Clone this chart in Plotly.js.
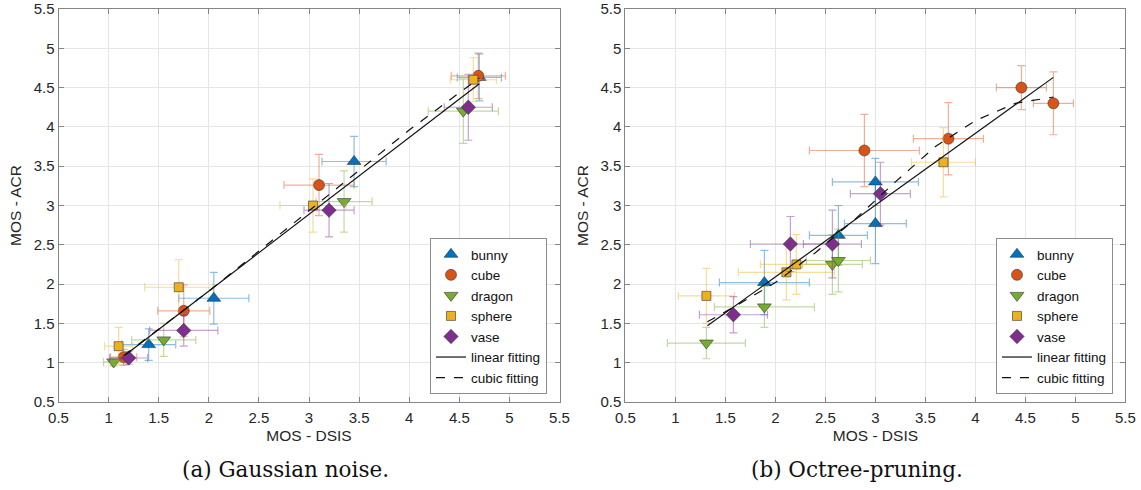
<!DOCTYPE html>
<html><head><meta charset="utf-8">
<script src="https://cdn.plot.ly/plotly-3.0.1.min.js"></script>
<style>body{margin:0;background:#fff}#c{width:1141px;height:490px}</style>
</head><body><div id="c"></div>
<script>
// ---------- DATA ----------
const seriesNames = ["bunny","cube","dragon","sphere","vase"];

// (a) Gaussian noise
const gBunnyX  = [1.40, 2.05, 3.45, 4.70];
const gBunnyY  = [1.23, 1.82, 3.56, 4.63];
const gBunnyEX = [0.27, 0.35, 0.32, 0.22];
const gBunnyEY = [0.20, 0.33, 0.32, 0.30];
const gCubeX   = [1.15, 1.75, 3.10, 4.69];
const gCubeY   = [1.07, 1.66, 3.26, 4.65];
const gCubeEX  = [0.13, 0.26, 0.35, 0.27];
const gCubeEY  = [0.10, 0.33, 0.39, 0.29];
const gDragonX = [1.05, 1.55, 3.35, 4.54];
const gDragonY = [1.01, 1.29, 3.05, 4.20];
const gDragonEX= [0.10, 0.32, 0.28, 0.35];
const gDragonEY= [0.05, 0.21, 0.39, 0.41];
const gSphereX = [1.10, 1.70, 3.04, 4.64];
const gSphereY = [1.21, 1.96, 3.00, 4.60];
const gSphereEX= [0.14, 0.34, 0.33, 0.23];
const gSphereEY= [0.24, 0.35, 0.34, 0.28];
const gVaseX   = [1.20, 1.75, 3.20, 4.59];
const gVaseY   = [1.06, 1.41, 2.94, 4.25];
const gVaseEX  = [0.19, 0.34, 0.25, 0.24];
const gVaseEY  = [0.08, 0.20, 0.34, 0.42];
const gLinX = [1.17, 4.70];
const gLinY = [1.10, 4.55];
const gCubX = [1.15, 1.60, 2.00, 2.50, 3.00, 3.50, 4.00, 4.40, 4.70];
const gCubY = [1.09, 1.52, 1.91, 2.42, 2.93, 3.45, 3.96, 4.34, 4.62];

// (b) Octree-pruning
const oBunnyX  = [1.89, 2.63, 3.00, 3.00];
const oBunnyY  = [2.02, 2.62, 3.30, 2.77];
const oBunnyEX = [0.45, 0.29, 0.43, 0.31];
const oBunnyEY = [0.41, 0.38, 0.30, 0.51];
const oCubeX   = [2.89, 3.73, 4.46, 4.78];
const oCubeY   = [3.70, 3.85, 4.50, 4.30];
const oCubeEX  = [0.55, 0.35, 0.25, 0.20];
const oCubeEY  = [0.46, 0.46, 0.28, 0.40];
const oDragonX = [1.31, 1.89, 2.57, 2.63];
const oDragonY = [1.25, 1.71, 2.25, 2.30];
const oDragonEX= [0.39, 0.50, 0.30, 0.32];
const oDragonEY= [0.20, 0.26, 0.38, 0.40];
const oSphereX = [1.31, 2.11, 2.21, 3.68];
const oSphereY = [1.85, 2.15, 2.25, 3.55];
const oSphereEX= [0.28, 0.48, 0.36, 0.32];
const oSphereEY= [0.35, 0.35, 0.38, 0.44];
const oVaseX   = [1.58, 2.15, 2.57, 3.05];
const oVaseY   = [1.61, 2.51, 2.51, 3.15];
const oVaseEX  = [0.34, 0.40, 0.29, 0.30];
const oVaseEY  = [0.23, 0.35, 0.43, 0.40];
const oLinX = [1.32, 4.78];
const oLinY = [1.47, 4.63];
const oCubX = [1.32, 1.60, 2.00, 2.40, 2.80, 3.20, 3.60, 4.00, 4.40, 4.78];
const oCubY = [1.52, 1.72, 2.02, 2.40, 2.83, 3.30, 3.75, 4.08, 4.30, 4.38];

const xTicks = [0.5,1,1.5,2,2.5,3,3.5,4,4.5,5,5.5];
const yTicks = [0.5,1,1.5,2,2.5,3,3.5,4,4.5,5,5.5];
const captions = ["(a) Gaussian noise.", "(b) Octree-pruning."];
const xTitle = "MOS - DSIS", yTitle = "MOS - ACR";
const fitNames = ["linear fitting","cubic fitting"];

// ---------- STYLE ----------
const colors = {bunny:[0,114,189], cube:[217,83,25], dragon:[119,172,48], sphere:[237,177,32], vase:[126,47,142]};
const symbols = {bunny:'triangle-up', cube:'circle', dragon:'triangle-down', sphere:'square', vase:'diamond'};
const sizes = {bunny:12, cube:11, dragon:12, sphere:9, vase:11};
const rgb = (c,a)=> a===undefined ? `rgb(${c.join(',')})` : `rgba(${c.join(',')},${a})`;

function pts(name, X, Y, EX, EY, xa, ya, leg){
  const c = colors[name];
  return {type:'scatter', mode:'markers', name:name, x:X, y:Y, xaxis:xa, yaxis:ya, legend:leg,
    error_x:{type:'data', array:EX, visible:true, color:rgb(c,0.45), thickness:1.2, width:4},
    error_y:{type:'data', array:EY, visible:true, color:rgb(c,0.45), thickness:1.2, width:4},
    marker:{symbol:symbols[name], size:sizes[name], color:rgb(c), line:{color:'rgba(50,50,50,0.85)', width:0.7}}};
}
function fit(X,Y,dash,name,xa,ya,leg){
  return {type:'scatter', mode:'lines', name:name, x:X, y:Y, xaxis:xa, yaxis:ya, legend:leg,
    line:{color:'#111', width:1.2, dash:dash}};
}

const data = [
  pts('bunny', gBunnyX, gBunnyY, gBunnyEX, gBunnyEY, 'x','y','legend'),
  pts('cube', gCubeX, gCubeY, gCubeEX, gCubeEY, 'x','y','legend'),
  pts('dragon', gDragonX, gDragonY, gDragonEX, gDragonEY, 'x','y','legend'),
  pts('sphere', gSphereX, gSphereY, gSphereEX, gSphereEY, 'x','y','legend'),
  pts('vase', gVaseX, gVaseY, gVaseEX, gVaseEY, 'x','y','legend'),
  fit(gLinX, gLinY, 'solid', fitNames[0], 'x','y','legend'),
  fit(gCubX, gCubY, 'dash', fitNames[1], 'x','y','legend'),
  pts('bunny', oBunnyX, oBunnyY, oBunnyEX, oBunnyEY, 'x2','y2','legend2'),
  pts('cube', oCubeX, oCubeY, oCubeEX, oCubeEY, 'x2','y2','legend2'),
  pts('dragon', oDragonX, oDragonY, oDragonEX, oDragonEY, 'x2','y2','legend2'),
  pts('sphere', oSphereX, oSphereY, oSphereEX, oSphereEY, 'x2','y2','legend2'),
  pts('vase', oVaseX, oVaseY, oVaseEX, oVaseEY, 'x2','y2','legend2'),
  fit(oLinX, oLinY, 'solid', fitNames[0], 'x2','y2','legend2'),
  fit(oCubX, oCubY, 'dash', fitNames[1], 'x2','y2','legend2'),
];

const W = 1141, H = 490;
const sans = 'Liberation Sans, Arial, sans-serif';
const tickFont = {family:sans, size:15, color:'#262626'};
const axisColor = '#858585';
function xax(d, anchor){
  return {domain:d, anchor:anchor, range:[0.5,5.5], tickvals:xTicks, ticktext:xTicks.map(String),
    ticks:'inside', ticklen:5, tickcolor:axisColor, mirror:'ticks', showline:true, linecolor:axisColor, linewidth:1,
    showgrid:true, gridcolor:'#e6e6e6', gridwidth:1, zeroline:false, tickfont:tickFont, ticklabeloverflow:'allow',
    ticklabelstandoff:2,
    title:{text:xTitle, font:{family:sans, size:15.5, color:'#262626'}, standoff:5}};
}
function yax(d, anchor){
  return {domain:d, anchor:anchor, range:[0.5,5.5], tickvals:yTicks, ticktext:yTicks.map(String),
    ticks:'inside', ticklen:5, tickcolor:axisColor, mirror:'ticks', showline:true, linecolor:axisColor, linewidth:1,
    showgrid:true, gridcolor:'#e6e6e6', gridwidth:1, zeroline:false, tickfont:tickFont, ticklabeloverflow:'allow',
    title:{text:yTitle, font:{family:sans, size:15.5, color:'#262626'}, standoff:8}};
}
const yd = [(H-402)/H, (H-9)/H];
const legendBase = {bgcolor:'#fff', bordercolor:'#8c8c8c', borderwidth:1, xanchor:'right', yanchor:'bottom',
  font:{family:sans, size:13.5, color:'#111'}, tracegroupgap:0};
const layout = {
  width:W, height:H, margin:{l:0,r:0,t:0,b:0}, paper_bgcolor:'#fff', plot_bgcolor:'#fff', showlegend:true,
  xaxis: xax([58.5/W, 559.5/W], 'y'),
  yaxis: yax(yd, 'x'),
  xaxis2: xax([625.4/W, 1125.4/W], 'y2'),
  yaxis2: yax(yd, 'x2'),
  legend: Object.assign({x:547/W, y:(H-394)/H}, legendBase),
  legend2: Object.assign({x:1113/W, y:(H-394)/H}, legendBase),
  annotations:[
    {text:captions[0], xref:'paper', yref:'paper', x:285/W, y:(H-469)/H, xanchor:'center', yanchor:'middle', showarrow:false,
     font:{family:'DejaVu Serif, serif', size:21.5, color:'#111'}},
    {text:captions[1], xref:'paper', yref:'paper', x:857/W, y:(H-469)/H, xanchor:'center', yanchor:'middle', showarrow:false,
     font:{family:'DejaVu Serif, serif', size:21.5, color:'#111'}}
  ]
};
Plotly.newPlot('c', data, layout, {staticPlot:true, displayModeBar:false});
</script></body></html>
